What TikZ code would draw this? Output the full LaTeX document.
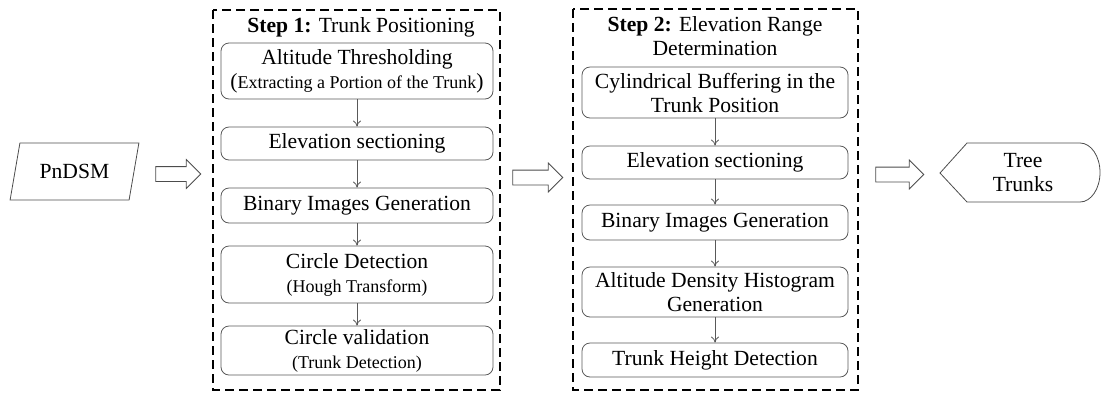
\documentclass[tikz,border=0pt]{standalone}
\usepackage{fontspec}
\setmainfont{Liberation Serif}
\usetikzlibrary{arrows.meta,shapes.geometric,shapes.arrows}

\newcommand{\bigtxt}{\fontsize{10.8}{12}\selectfont}
\newcommand{\smalltxt}{\fontsize{9}{11}\selectfont}

\begin{document}
\begin{tikzpicture}[x=0.5pt,y=-0.5pt,font=\bigtxt,
    stepbox/.style={draw=black!65,rounded corners=4pt,align=center,inner sep=0pt},
    phase/.style={draw=black,line width=1pt,dash pattern=on 4.5pt off 2.5pt},
    flow/.style={draw=black!65,-{To[length=3pt,width=4pt]}},
    bigarrow/.style={draw=black!70,single arrow,text height=3.5pt,text depth=3.5pt,text width=0pt,single arrow head extend=3.5pt,single arrow head indent=0pt,inner sep=0pt}]
    \useasboundingbox (0,0) rectangle (1102,397);

    \node[draw=black!70,trapezium,trapezium left angle=75,trapezium right angle=105,trapezium stretches=true,minimum width=64.5pt,minimum height=28.5pt] (pndsm) at (74.5,171.5) {PnDSM};
    \node[bigarrow,minimum height=22.5pt] (arr1) at (174.5,174) {};

    \draw[phase] (213,10) rectangle (500,390);
    \node (title1) at (361,27) {\textbf{Step 1:} Trunk Positioning};
    \node[stepbox,minimum width=136pt,minimum height=28pt] (alt) at (357,71) {Altitude Thresholding\\{\smalltxt{\bigtxt(}Extracting a Portion of the Trunk{\bigtxt)}}};
    \node[stepbox,minimum width=136pt,minimum height=16.5pt] (sec1) at (357,143.5) {Elevation sectioning};
    \node[stepbox,minimum width=136pt,minimum height=17.5pt] (bin1) at (357,205.5) {Binary Images Generation};
    \node[stepbox,minimum width=136pt,minimum height=28.5pt] (circ) at (357,274.5) {Circle Detection\\{\smalltxt(Hough Transform)}};
    \node[stepbox,minimum width=136pt,minimum height=24.5pt] (valid) at (357,350.5) {Circle validation\\{\smalltxt(Trunk Detection)}};
    \draw[flow] (alt) -- (sec1);
    \draw[flow] (sec1) -- (bin1);
    \draw[flow] (bin1) -- (circ);
    \draw[flow] (circ) -- (valid);

    \node[bigarrow,minimum height=25pt] (arr2) at (534,177.5) {};

    \draw[phase] (573,9) rectangle (858,390);
    \node[align=center] (title2) at (715,36) {\textbf{Step 2:} Elevation Range\\Determination};
    \node[stepbox,minimum width=133pt,minimum height=25.5pt] (cyl) at (715,92.5) {Cylindrical Buffering in the\\Trunk Position};
    \node[stepbox,minimum width=133pt,minimum height=16.5pt] (sec2) at (715,162.5) {Elevation sectioning};
    \node[stepbox,minimum width=133pt,minimum height=17.5pt] (bin2) at (715,222.5) {Binary Images Generation};
    \node[stepbox,minimum width=133pt,minimum height=25pt] (hist) at (715,292) {Altitude Density Histogram\\Generation};
    \node[stepbox,minimum width=133pt,minimum height=17pt] (height) at (715,360) {Trunk Height Detection};
    \draw[flow] (cyl) -- (sec2);
    \draw[flow] (sec2) -- (bin2);
    \draw[flow] (bin2) -- (hist);
    \draw[flow] (hist) -- (height);

    \node[bigarrow,minimum height=24pt] (arr3) at (896,174.5) {};

    \draw[draw=black!70] (940,173) -- (967,143) -- (1080,143) arc[start angle=90,end angle=-90,x radius=10pt,y radius=14.75pt] -- (967,202) -- cycle;
    \node[align=center] (trunks) at (1023,173) {Tree\\Trunks};
  \end{tikzpicture}
\end{document}
